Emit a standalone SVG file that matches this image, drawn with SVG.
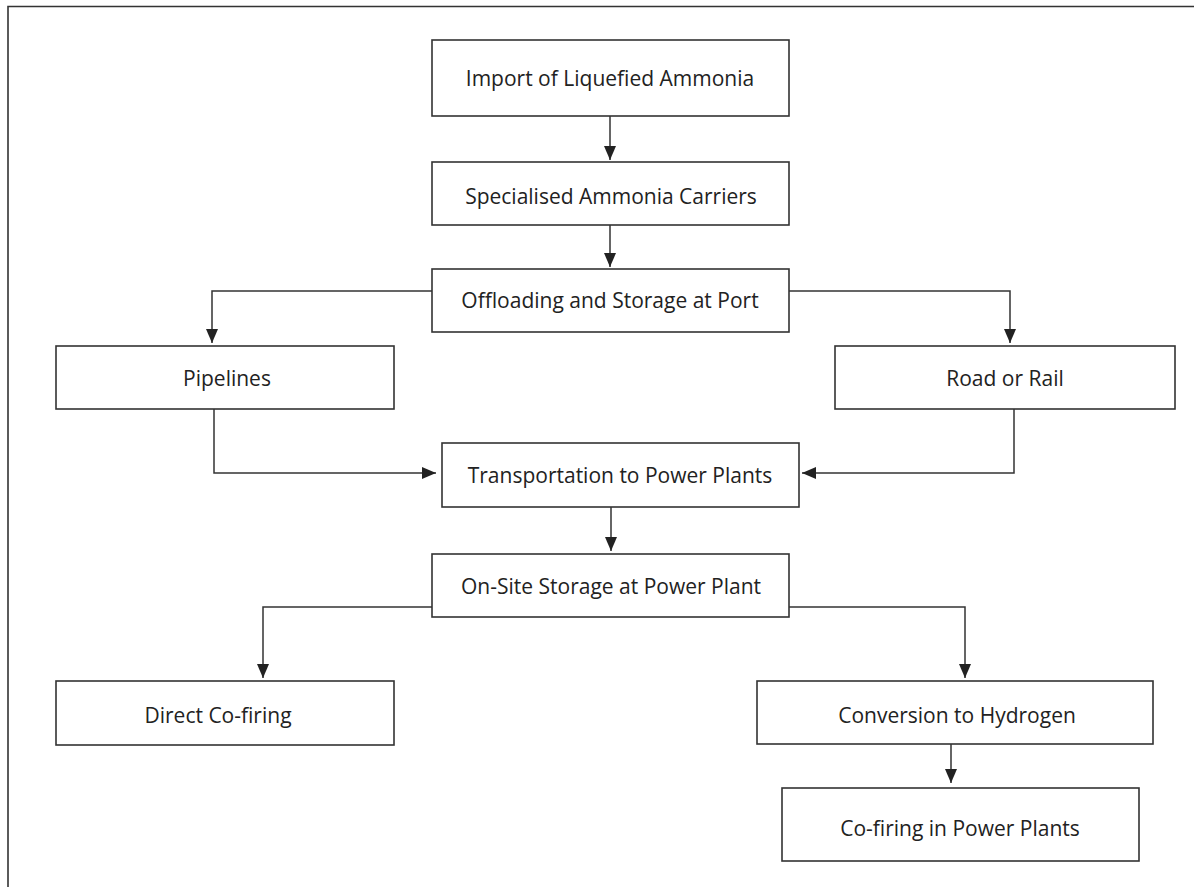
<svg xmlns="http://www.w3.org/2000/svg" width="1194" height="887" viewBox="0 0 1194 887">
<style>
.box{fill:#fff;stroke:#333;stroke-width:1.6}
.lbl{font-family:"Open Sans","Liberation Sans",sans-serif;font-size:21px;fill:#222;text-anchor:middle}
.con{fill:none;stroke:#333;stroke-width:1.5}
</style>
<defs>
<marker id="ah" markerUnits="userSpaceOnUse" markerWidth="15" markerHeight="13" refX="14" refY="6" orient="auto">
<path d="M0,0 L14,6 L0,12 z" fill="#222"/>
</marker>
</defs>
<rect width="1194" height="887" fill="#fff"/>
<path d="M8,887 V6.5 H1194" fill="none" stroke="#333" stroke-width="1.6"/>
<g id="n1"><rect class="box" x="432" y="40" width="357" height="76"/><text class="lbl" x="610" y="86">Import of Liquefied Ammonia</text></g>
<g id="n2"><rect class="box" x="432" y="162" width="357" height="63"/><text class="lbl" x="611" y="204">Specialised Ammonia Carriers</text></g>
<g id="n3"><rect class="box" x="432" y="269" width="357" height="63"/><text class="lbl" x="610" y="308">Offloading and Storage at Port</text></g>
<g id="n4"><rect class="box" x="56" y="346" width="338" height="63"/><text class="lbl" x="227" y="386">Pipelines</text></g>
<g id="n5"><rect class="box" x="835" y="346" width="340" height="63"/><text class="lbl" x="1005" y="386">Road or Rail</text></g>
<g id="n6"><rect class="box" x="442" y="443" width="357" height="64"/><text class="lbl" x="620" y="483">Transportation to Power Plants</text></g>
<g id="n7"><rect class="box" x="432" y="554" width="357" height="63"/><text class="lbl" x="611" y="594">On-Site Storage at Power Plant</text></g>
<g id="n8"><rect class="box" x="56" y="681" width="338" height="64"/><text class="lbl" x="218" y="723">Direct Co-firing</text></g>
<g id="n9"><rect class="box" x="757" y="681" width="396" height="63"/><text class="lbl" x="957" y="723">Conversion to Hydrogen</text></g>
<g id="n10"><rect class="box" x="782" y="788" width="357" height="73"/><text class="lbl" x="960" y="836">Co-firing in Power Plants</text></g>
<g id="connectors">
<path class="con" d="M610,116 V160" marker-end="url(#ah)"/>
<path class="con" d="M610,225 V267" marker-end="url(#ah)"/>
<path class="con" d="M432,291 H212 V343" marker-end="url(#ah)"/>
<path class="con" d="M789,291 H1010 V343" marker-end="url(#ah)"/>
<path class="con" d="M214,409 V473 H436" marker-end="url(#ah)"/>
<path class="con" d="M1014,409 V473 H802" marker-end="url(#ah)"/>
<path class="con" d="M611,507 V551" marker-end="url(#ah)"/>
<path class="con" d="M432,607 H263 V678" marker-end="url(#ah)"/>
<path class="con" d="M789,607 H965 V678" marker-end="url(#ah)"/>
<path class="con" d="M951,744 V783" marker-end="url(#ah)"/>
</g>
</svg>
